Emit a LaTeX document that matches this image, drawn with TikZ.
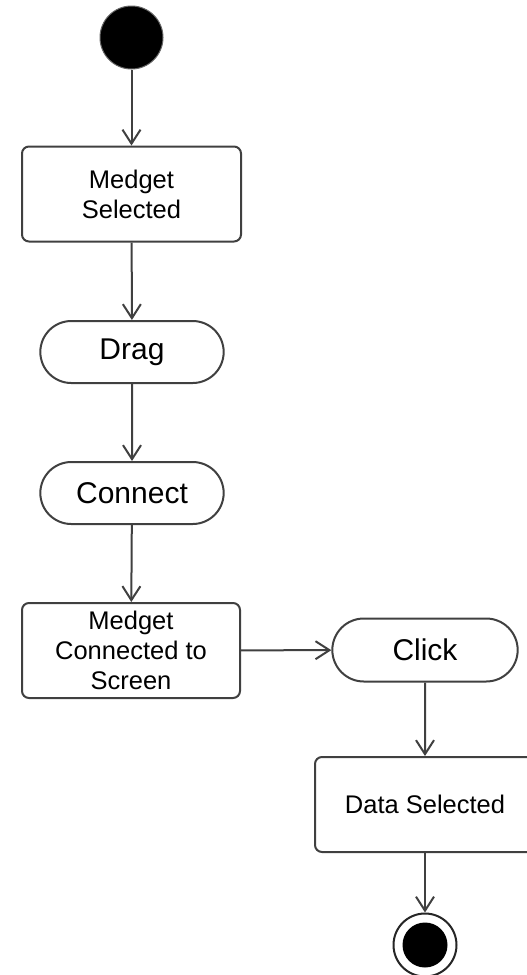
\documentclass[tikz,border=0pt]{standalone}
\usepackage{fontspec}
\setmainfont{Liberation Sans}
\usetikzlibrary{%
	arrows.meta,
	shapes.misc,% wg. rounded rectangle
	positioning
}
\tikzstyle{initial}=[circle, minimum size=63pt, inner sep=0pt, fill=black, draw=black!60, line width=1pt]
\tikzstyle{final}=[circle, minimum size=63pt, inner sep=0pt, fill=white, draw=black!85, line width=2pt, path picture={\fill[black] (path picture bounding box.center) circle (22.5pt);}]
\tikzstyle{action}=[rectangle, rounded corners=7pt, draw=black!75, line width=2pt, align=center, inner sep=2pt, minimum height=95pt, font=\fontsize{25.5}{30}\selectfont]
\tikzstyle{activity}=[rounded rectangle, draw=black!75, line width=2pt, minimum width=190pt, minimum height=62pt, font=\fontsize{30}{36}\selectfont]
\tikzstyle{edge}=[draw=black!75, line width=2pt, -{Straight Barb[length=14pt,width=18pt,line width=2pt]}]

\begin{document}
\begin{tikzpicture}[x=1pt,y=-1pt]
	\useasboundingbox (0,0) rectangle (527,975);
	
	% First we draw the start and end states
	\node[initial] (start) at (131.5,37.5) {};
	\node[final] (stop) at (425,945) {};
	
	% Then the boxes
	\foreach \pos/\name/\w/\txt in {{(131.5,194)/selected/219/{Medget\\Selected}},
		{(131,650.5)/screen/218/{Medget\\Connected to\\Screen}},
		{(425,804.5)/data/220/{Data Selected}}}
	\node[action, minimum width=\w pt] (\name) at \pos {\txt};
	
	% Then the rounded ones
	\foreach \pos/\name/\txt in {{(132,352)/drag/Drag}, {(132,493)/connect/Connect}}
	\node[activity] (\name) at \pos {\txt};
	\node[activity, minimum width=192pt, minimum height=63pt] (click) at (425,650) {Click};
	
	% Connect them with edges
	\foreach \source/\dest in {start/selected, selected/drag, drag/connect,
		connect/screen, screen/click, click/data, data/stop}
	\path[edge] (\source) -- (\dest);
	
\end{tikzpicture}
\end{document}
